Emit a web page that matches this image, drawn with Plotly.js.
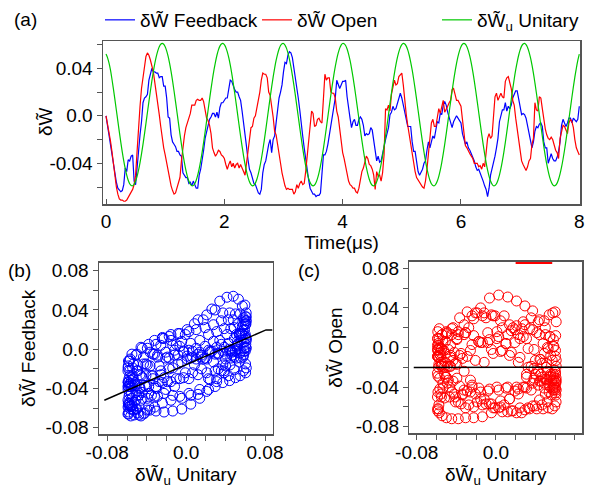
<!DOCTYPE html>
<html><head><meta charset="utf-8">
<script src="https://cdn.plot.ly/plotly-3.0.1.min.js"></script>
<style>html,body{margin:0;padding:0;background:#fff}#chart{width:591px;height:487px}</style>
</head><body><div id="chart"></div>
<script>
// time axis (microseconds)
const timeUs = [
0,0.025,0.05,0.075,0.1,0.125,0.15,0.175,0.2,0.225,0.25,0.275,0.3,0.325,0.35,0.375,0.4,0.425,0.45,0.475,
0.5,0.525,0.55,0.575,0.6,0.625,0.65,0.675,0.7,0.725,0.75,0.775,0.8,0.825,0.85,0.875,0.9,0.925,0.95,0.975,
1,1.025,1.05,1.075,1.1,1.125,1.15,1.175,1.2,1.225,1.25,1.275,1.3,1.325,1.35,1.375,1.4,1.425,1.45,1.475,
1.5,1.525,1.55,1.575,1.6,1.625,1.65,1.675,1.7,1.725,1.75,1.775,1.8,1.825,1.85,1.875,1.9,1.925,1.95,1.975,
2,2.025,2.05,2.075,2.1,2.125,2.15,2.175,2.2,2.225,2.25,2.275,2.3,2.325,2.35,2.375,2.4,2.425,2.45,2.475,
2.5,2.525,2.55,2.575,2.6,2.625,2.65,2.675,2.7,2.725,2.75,2.775,2.8,2.825,2.85,2.875,2.9,2.925,2.95,2.975,
3,3.025,3.05,3.075,3.1,3.125,3.15,3.175,3.2,3.225,3.25,3.275,3.3,3.325,3.35,3.375,3.4,3.425,3.45,3.475,
3.5,3.525,3.55,3.575,3.6,3.625,3.65,3.675,3.7,3.725,3.75,3.775,3.8,3.825,3.85,3.875,3.9,3.925,3.95,3.975,
4,4.025,4.05,4.075,4.1,4.125,4.15,4.175,4.2,4.225,4.25,4.275,4.3,4.325,4.35,4.375,4.4,4.425,4.45,4.475,
4.5,4.525,4.55,4.575,4.6,4.625,4.65,4.675,4.7,4.725,4.75,4.775,4.8,4.825,4.85,4.875,4.9,4.925,4.95,4.975,
5,5.025,5.05,5.075,5.1,5.125,5.15,5.175,5.2,5.225,5.25,5.275,5.3,5.325,5.35,5.375,5.4,5.425,5.45,5.475,
5.5,5.525,5.55,5.575,5.6,5.625,5.65,5.675,5.7,5.725,5.75,5.775,5.8,5.825,5.85,5.875,5.9,5.925,5.95,5.975,
6,6.025,6.05,6.075,6.1,6.125,6.15,6.175,6.2,6.225,6.25,6.275,6.3,6.325,6.35,6.375,6.4,6.425,6.45,6.475,
6.5,6.525,6.55,6.575,6.6,6.625,6.65,6.675,6.7,6.725,6.75,6.775,6.8,6.825,6.85,6.875,6.9,6.925,6.95,6.975,
7,7.025,7.05,7.075,7.1,7.125,7.15,7.175,7.2,7.225,7.25,7.275,7.3,7.325,7.35,7.375,7.4,7.425,7.45,7.475,
7.5,7.525,7.55,7.575,7.6,7.625,7.65,7.675,7.7,7.725,7.75,7.775,7.8,7.825,7.85,7.875,7.9,7.925,7.95,7.975,
8];

// δW̃u Unitary (green)
const unitary = [
0.052,0.049,0.0445,0.0386,0.031,0.0227,0.0138,0.0047,-0.0045,-0.0136,-0.0224,-0.0306,-0.0380,-0.0446,-0.0500,-0.0543,-0.0572,-0.0587,-0.0589,-0.0576,
-0.0550,-0.0510,-0.0458,-0.0394,-0.0321,-0.0241,-0.0154,-0.0064,0.0028,0.0120,0.0209,0.0294,0.0372,0.0441,0.0500,0.0547,0.0582,0.0603,0.061,0.0603,
0.0582,0.0547,0.0500,0.0441,0.0372,0.0294,0.0209,0.0120,0.0028,-0.0064,-0.0154,-0.0241,-0.0321,-0.0394,-0.0458,-0.0510,-0.0550,-0.0576,-0.0589,-0.0587,
-0.0572,-0.0543,-0.0500,-0.0446,-0.0380,-0.0306,-0.0224,-0.0136,-0.0045,0.0047,0.0138,0.0227,0.031,0.0386,0.0453,0.0510,0.0555,0.0587,0.0605,0.0610,
0.0600,0.0576,0.0539,0.0489,0.0428,0.0357,0.0277,0.0192,0.0102,0.001,-0.0082,-0.0172,-0.0257,-0.0337,-0.0408,-0.0469,-0.0519,-0.0556,-0.0580,-0.0590,
-0.0585,-0.0567,-0.0535,-0.0490,-0.0433,-0.0366,-0.029,-0.0207,-0.0118,-0.0027,0.0065,0.0156,0.0244,0.0326,0.0400,0.0466,0.0520,0.0563,0.0592,0.0607,
0.0609,0.0596,0.0570,0.0530,0.0478,0.0414,0.0341,0.0261,0.0174,0.0084,-0.0008,-0.0100,-0.0189,-0.0274,-0.0352,-0.0421,-0.0480,-0.0527,-0.0562,-0.0583,
-0.059,-0.0583,-0.0562,-0.0527,-0.0480,-0.0421,-0.0352,-0.0274,-0.0189,-0.0100,-0.0008,0.0084,0.0174,0.0261,0.0341,0.0414,0.0478,0.0530,0.0570,0.0596,
0.0609,0.0607,0.0592,0.0563,0.0520,0.0466,0.0400,0.0326,0.0244,0.0156,0.0065,-0.0027,-0.0118,-0.0207,-0.029,-0.0366,-0.0433,-0.0490,-0.0535,-0.0567,
-0.0585,-0.0590,-0.0580,-0.0556,-0.0519,-0.0469,-0.0408,-0.0337,-0.0257,-0.0172,-0.0082,0.001,0.0102,0.0192,0.0277,0.0357,0.0428,0.0489,0.0539,0.0576,
0.0600,0.0610,0.0605,0.0587,0.0555,0.0510,0.0453,0.0386,0.031,0.0227,0.0138,0.0047,-0.0045,-0.0136,-0.0224,-0.0306,-0.0380,-0.0446,-0.0500,-0.0543,
-0.0572,-0.0587,-0.0589,-0.0576,-0.0550,-0.0510,-0.0458,-0.0394,-0.0321,-0.0241,-0.0154,-0.0064,0.0028,0.0120,0.0209,0.0294,0.0372,0.0441,0.0500,0.0547,
0.0582,0.0603,0.061,0.0603,0.0582,0.0547,0.0500,0.0441,0.0372,0.0294,0.0209,0.0120,0.0028,-0.0064,-0.0154,-0.0241,-0.0321,-0.0394,-0.0458,-0.0510,
-0.0550,-0.0576,-0.0589,-0.0587,-0.0572,-0.0543,-0.0500,-0.0446,-0.0380,-0.0306,-0.0224,-0.0136,-0.0045,0.0047,0.0138,0.0227,0.031,0.0386,0.0453,0.0510,
0.0555,0.0587,0.0605,0.0610,0.0600,0.0576,0.0539,0.0489,0.0428,0.0357,0.0277,0.0192,0.0102,0.001,-0.0082,-0.0172,-0.0257,-0.0337,-0.0408,-0.0469,
-0.0519,-0.0556,-0.0580,-0.0590,-0.0585,-0.0567,-0.0535,-0.0490,-0.0433,-0.0366,-0.029,-0.0207,-0.0118,-0.0027,0.0065,0.0156,0.0244,0.0326,0.0400,0.0466,
0.0520];

// δW̃ Feedback (blue)
const feedback = [
0,-0.008,-0.016,-0.024,-0.033,-0.041,-0.050,-0.056,-0.061,-0.063,-0.064,-0.063,-0.058,-0.044,-0.047,-0.037,-0.038,-0.034,-0.033,-0.055,
-0.058,-0.044,-0.027,-0.016,-0.005,0.011,0.015,0.016,0.018,0.030,0.035,0.040,0.037,0.037,0.036,0.036,0.032,0.033,0.033,0.025,
0.025,0.015,-0.001,-0.002,-0.016,-0.022,-0.024,-0.026,-0.030,-0.030,-0.033,-0.034,-0.048,-0.050,-0.052,-0.052,-0.057,-0.056,-0.059,-0.055,
-0.058,-0.061,-0.061,-0.050,-0.045,-0.038,-0.029,-0.019,-0.013,-0.009,-0.003,-0.001,0.002,0.002,-0.001,0.003,-0.002,0.007,0.011,0.011,
0.013,0.015,0.015,0.022,0.030,0.029,0.025,0.022,0.020,0.020,0.016,0.013,0.004,-0.005,-0.015,-0.026,-0.037,-0.045,-0.048,-0.052,
-0.057,-0.058,-0.062,-0.065,-0.066,-0.062,-0.048,-0.041,-0.038,-0.029,-0.024,-0.020,-0.031,-0.020,-0.017,-0.006,0.005,0.015,0.020,0.026,
0.037,0.045,0.044,0.051,0.054,0.053,0.049,0.041,0.030,0.026,0.015,0.005,-0.008,-0.017,-0.027,-0.037,-0.047,-0.054,-0.061,-0.064,
-0.066,-0.066,-0.068,-0.067,-0.067,-0.065,-0.047,-0.033,-0.033,-0.030,-0.024,-0.016,-0.010,-0.002,0.009,0.015,0.030,0.026,0.023,0.026,
0.029,0.029,0.030,0.016,0.004,-0.002,-0.010,-0.005,-0.003,-0.008,-0.008,-0.003,-0.001,-0.003,-0.008,-0.017,-0.015,-0.016,-0.015,-0.010,
-0.012,-0.022,-0.030,-0.038,-0.034,-0.039,-0.038,-0.030,-0.026,-0.020,-0.015,-0.010,0.001,0.003,0.008,0.005,0.006,0.011,0.016,0.019,
0.015,0.009,0.005,-0.002,-0.009,-0.009,-0.009,-0.022,-0.030,-0.030,-0.041,-0.047,-0.050,-0.047,-0.045,-0.040,-0.038,-0.029,-0.022,-0.027,
-0.022,-0.017,-0.019,-0.012,-0.005,-0.006,0.002,0.001,0.009,0.012,0.009,0.003,-0.001,-0.005,-0.010,-0.005,-0.002,0.000,-0.002,-0.004,
-0.006,-0.015,-0.019,-0.024,-0.022,-0.027,-0.029,-0.032,-0.034,-0.038,-0.043,-0.046,-0.045,-0.048,-0.052,-0.055,-0.059,-0.062,-0.068,-0.061,
-0.050,-0.045,-0.041,-0.034,-0.027,-0.019,-0.005,0.001,0.005,0.005,0.011,0.004,0.008,0.006,0.009,0.015,0.018,0.021,0.021,0.015,
0.009,0.001,0.002,0.001,-0.002,-0.008,-0.013,-0.021,-0.027,-0.022,-0.013,-0.009,-0.010,-0.007,-0.006,-0.009,-0.022,-0.027,-0.027,-0.040,
-0.036,-0.032,-0.036,-0.038,-0.038,-0.035,-0.030,-0.022,-0.008,-0.003,-0.006,-0.009,-0.006,-0.002,-0.002,-0.006,-0.002,-0.004,-0.005,-0.003,
0.008];

// δW̃ Open (red)
const openLoop = [
0,-0.006,-0.012,-0.021,-0.030,-0.042,-0.052,-0.060,-0.066,-0.070,-0.071,-0.071,-0.072,-0.072,-0.071,-0.069,-0.066,-0.064,-0.062,-0.058,
-0.050,-0.030,-0.008,0.008,0.023,0.032,0.040,0.050,0.053,0.051,0.047,0.042,0.037,0.028,0.020,0.011,0.001,-0.009,-0.019,-0.027,
-0.033,-0.040,-0.047,-0.053,-0.059,-0.063,-0.066,-0.065,-0.061,-0.057,-0.052,-0.038,-0.024,-0.017,-0.010,-0.006,-0.002,0.002,0.009,0.009,
0.009,0.013,0.014,0.013,0.013,0.015,0.012,0.005,-0.002,-0.004,-0.008,-0.015,-0.027,-0.031,-0.034,-0.032,-0.029,-0.030,-0.033,-0.034,
-0.036,-0.041,-0.045,-0.041,-0.038,-0.043,-0.040,-0.044,-0.041,-0.040,-0.044,-0.041,-0.045,-0.047,-0.050,-0.040,-0.027,-0.015,-0.010,-0.009,
-0.002,0.000,0.006,0.015,0.020,0.030,0.036,0.035,0.035,0.032,0.020,0.017,0.009,-0.001,-0.013,-0.016,-0.024,-0.034,-0.040,-0.048,
-0.055,-0.059,-0.062,-0.061,-0.062,-0.062,-0.062,-0.066,-0.064,-0.058,-0.061,-0.057,-0.055,-0.058,-0.057,-0.047,-0.033,-0.019,-0.005,0.004,
0.002,-0.009,-0.008,-0.003,-0.002,-0.005,-0.006,0.020,0.035,0.030,0.032,0.032,0.020,0.019,0.019,0.015,0.004,-0.001,-0.013,-0.023,
-0.031,-0.036,-0.043,-0.048,-0.055,-0.058,-0.059,-0.061,-0.061,-0.064,-0.065,-0.061,-0.052,-0.047,-0.044,-0.039,-0.034,-0.036,-0.041,-0.042,
-0.045,-0.050,-0.062,-0.047,-0.051,-0.050,-0.055,-0.048,-0.033,0.006,0.005,0.009,0.004,0.018,0.026,0.030,0.026,0.027,0.033,0.035,
0.036,0.026,0.012,0.001,-0.008,-0.016,-0.027,-0.033,-0.041,-0.047,-0.052,-0.054,-0.057,-0.058,-0.060,-0.061,-0.055,-0.045,-0.030,-0.017,
-0.006,-0.003,-0.009,-0.009,-0.001,0.006,0.002,0.009,0.013,0.003,0.005,0.008,0.011,0.013,0.022,0.023,0.018,0.013,0.013,0.011,
0.008,-0.003,-0.013,-0.025,-0.027,-0.030,-0.032,-0.034,-0.036,-0.040,-0.040,-0.040,-0.043,-0.042,-0.045,-0.040,-0.043,-0.031,-0.019,-0.015,
-0.019,-0.017,-0.002,0.016,0.019,0.013,0.016,0.019,0.016,0.015,0.029,0.032,0.033,0.027,0.023,0.013,0.009,-0.002,-0.012,-0.020,
-0.027,-0.038,-0.041,-0.043,-0.046,-0.043,-0.038,-0.036,-0.024,-0.019,0.011,0.005,0.004,0.016,0.015,0.006,-0.003,-0.011,-0.016,-0.019,
-0.020,-0.018,-0.020,-0.026,-0.029,-0.031,-0.036,-0.019,-0.013,-0.008,-0.009,-0.013,-0.015,-0.006,-0.003,-0.005,-0.010,-0.020,-0.027,-0.030,
-0.033];

// linear fits
const fitFeedbackX = [-0.083, 0.081, 0.0875];
const fitFeedbackY = [-0.052, 0.0197, 0.0197];
const fitOpenX = [-0.083, 0.0875];
const fitOpenY = [-0.0203, -0.0199];
const openMarkX = [0.020, 0.057];
const openMarkY = [0.0855, 0.0855];

// ticks and labels
const timeTickVals = [0, 2, 4, 6, 8];
const timeTickText = ['0', '2', '4', '6', '8'];
const topYTickVals = [-0.04, 0, 0.04];
const topYTickText = ['-0.04', '0.0', '0.04'];
const topYMinorVals = [-0.06, -0.02, 0.02, 0.06];
const topYAllVals = [-0.06, -0.04, -0.02, 0, 0.02, 0.04, 0.06];
const scatYTickVals = [-0.08, -0.04, 0, 0.04, 0.08];
const scatYTickText = ['-0.08', '-0.04', '0.0', '0.04', '0.08'];
const scatYMinorVals = [-0.06, -0.02, 0.02, 0.06];
const scatXTickVals = [-0.08, 0, 0.08];
const scatXTickText = ['-0.08', '0.0', '0.08'];
const scatXMinorVals = [-0.06, -0.04, -0.02, 0.02, 0.04, 0.06];
const scatAllVals = [-0.08, -0.06, -0.04, -0.02, 0, 0.02, 0.04, 0.06, 0.08];

const W = 591, H = 487;
const FONT = 'Liberation Sans, Arial, sans-serif';
const AX = '#555555';
const BLUE = '#0000ff', RED = '#ff0000', GREEN = '#00c800';
const fs = 19;

function px(x) { return x / W; }
function py(y) { return 1 - y / H; }

function mainAxis(extra, minorVals, dir) {
  const a = Object.assign({
    showline: true, mirror: true, linecolor: AX, linewidth: 1.5,
    ticks: dir || 'outside', ticklen: 5, tickwidth: 1, tickcolor: AX,
    tickmode: 'array', showgrid: false, zeroline: false,
    tickfont: {family: FONT, size: fs, color: '#000'}
  }, extra);
  if (minorVals) {
    a.minor = {tickmode: 'array', tickvals: minorVals, ticks: dir || 'outside', ticklen: 5,
               tickwidth: 1, tickcolor: AX, showgrid: false};
  }
  return a;
}
function mirrorAxis(extra) {
  return Object.assign({
    showline: false, ticks: 'inside', ticklen: 5, tickwidth: 1, tickcolor: AX,
    tickmode: 'array', showticklabels: false, showgrid: false, zeroline: false
  }, extra);
}

const traces = [
  {x: timeUs, y: feedback, type: 'scatter', mode: 'lines', line: {color: BLUE, width: 1.2},
   name: 'δW̃ Feedback', xaxis: 'x', yaxis: 'y', legend: 'legend'},
  {x: timeUs, y: openLoop, type: 'scatter', mode: 'lines', line: {color: RED, width: 1.2},
   name: 'δW̃ Open', xaxis: 'x', yaxis: 'y', legend: 'legend2'},
  {x: timeUs, y: unitary, type: 'scatter', mode: 'lines', line: {color: GREEN, width: 1.2, shape: 'spline', smoothing: 1},
   name: 'δW̃<sub>u</sub> Unitary', xaxis: 'x', yaxis: 'y', legend: 'legend3'},
  {x: unitary, y: feedback, type: 'scatter', mode: 'markers',
   marker: {symbol: 'circle-open', size: 10, color: BLUE, line: {width: 1}},
   xaxis: 'x2', yaxis: 'y2', showlegend: false},
  {x: fitFeedbackX, y: fitFeedbackY, type: 'scatter', mode: 'lines', line: {color: '#000', width: 1.5},
   xaxis: 'x2', yaxis: 'y2', showlegend: false},
  {x: unitary, y: openLoop, type: 'scatter', mode: 'markers',
   marker: {symbol: 'circle-open', size: 10, color: RED, line: {width: 1}},
   xaxis: 'x3', yaxis: 'y3', showlegend: false},
  {x: fitOpenX, y: fitOpenY, type: 'scatter', mode: 'lines', line: {color: '#000', width: 1.5},
   xaxis: 'x3', yaxis: 'y3', showlegend: false},
  {x: openMarkX, y: openMarkY, type: 'scatter', mode: 'lines', line: {color: RED, width: 2},
   xaxis: 'x3', yaxis: 'y3', showlegend: false}
];

const xA = [-0.051, 8.012], yA = [-0.0743, 0.063];
const xB = [-0.0884, 0.0878], yB = [-0.0864, 0.0882];
const xC = [-0.0875, 0.0874], yC = [-0.0867, 0.0867];
const titleFont = {family: FONT, size: fs, color: '#000'};
const legFont = {family: FONT, size: fs, color: '#000'};
function leg(x) {
  return {x: px(x), y: py(20), xanchor: 'left', yanchor: 'middle', orientation: 'h',
          font: legFont, bgcolor: 'rgba(0,0,0,0)', borderwidth: 0};
}
function label(text, x, y, angle) {
  return {text: text, x: px(x), y: py(y), xref: 'paper', yref: 'paper',
          xanchor: 'center', yanchor: 'middle', textangle: angle || 0, showarrow: false, font: titleFont};
}

const layout = {
  width: W, height: H,
  margin: {l: 0, r: 0, t: 0, b: 0},
  paper_bgcolor: '#fff', plot_bgcolor: '#fff',
  font: {family: FONT, size: fs, color: '#000'},
  xaxis: mainAxis({domain: [px(103), px(580)], range: xA, anchor: 'y',
    tickvals: timeTickVals, ticktext: timeTickText,
    title: {text: 'Time(μs)', font: titleFont, standoff: 4}}, null, 'inside'),
  yaxis: mainAxis({domain: [py(204), py(41)], range: yA, anchor: 'x',
    tickvals: topYTickVals, ticktext: topYTickText}, topYMinorVals),
  xaxis4: mirrorAxis({overlaying: 'x', side: 'top', anchor: 'y', range: xA, tickvals: timeTickVals}),
  yaxis4: mirrorAxis({overlaying: 'y', side: 'right', anchor: 'x', range: yA, tickvals: topYAllVals}),

  xaxis2: mainAxis({domain: [px(99), px(272.7)], range: xB, anchor: 'y2', ticklabelstandoff: -4,
    tickvals: scatXTickVals, ticktext: scatXTickText}, scatXMinorVals),
  yaxis2: mainAxis({domain: [py(434), py(262.7)], range: yB, anchor: 'x2',
    tickvals: scatYTickVals, ticktext: scatYTickText,
    title: {text: 'δW̃ Feedback', font: titleFont, standoff: 4}}, scatYMinorVals),
  xaxis5: mirrorAxis({overlaying: 'x2', side: 'top', anchor: 'y2', range: xB, tickvals: scatAllVals}),
  yaxis5: mirrorAxis({overlaying: 'y2', side: 'right', anchor: 'x2', range: yB, tickvals: scatAllVals}),

  xaxis3: mainAxis({domain: [px(409.3), px(582.3)], range: xC, anchor: 'y3', ticklabelstandoff: -4,
    tickvals: scatXTickVals, ticktext: scatXTickText}, scatXMinorVals),
  yaxis3: mainAxis({domain: [py(433.3), py(261.7)], range: yC, anchor: 'x3',
    tickvals: scatYTickVals, ticktext: scatYTickText,
    title: {text: 'δW̃ Open', font: titleFont, standoff: 8}}, scatYMinorVals),
  xaxis6: mirrorAxis({overlaying: 'x3', side: 'top', anchor: 'y3', range: xC, tickvals: scatAllVals}),
  yaxis6: mirrorAxis({overlaying: 'y3', side: 'right', anchor: 'x3', range: yC, tickvals: scatAllVals}),

  legend: leg(100),
  legend2: leg(257),
  legend3: leg(437),

  annotations: [
    label('δW̃', 45, 122, -90),
    label('δW̃<sub>u</sub> Unitary', 186, 476),
    label('δW̃<sub>u</sub> Unitary', 496, 476),
    {text: '(a)', x: px(12), y: py(20), xref: 'paper', yref: 'paper', xanchor: 'left', yanchor: 'middle', showarrow: false, font: titleFont},
    {text: '(b)', x: px(6), y: py(270), xref: 'paper', yref: 'paper', xanchor: 'left', yanchor: 'middle', showarrow: false, font: titleFont},
    {text: '(c)', x: px(296), y: py(270), xref: 'paper', yref: 'paper', xanchor: 'left', yanchor: 'middle', showarrow: false, font: titleFont}
  ]
};

Plotly.newPlot('chart', traces, layout, {displayModeBar: false, staticPlot: true});
</script>
</body></html>
